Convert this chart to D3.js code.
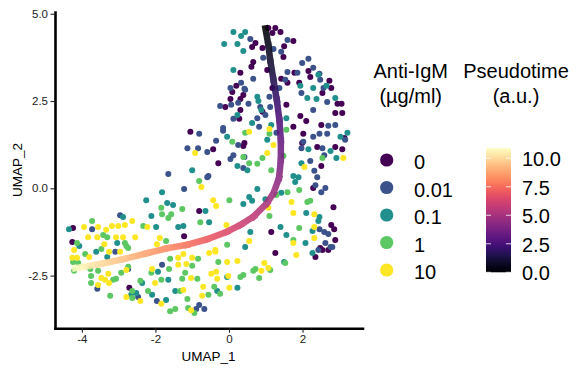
<!DOCTYPE html>
<html>
<head>
<meta charset="utf-8" />
<title>UMAP pseudotime</title>
<script src="https://cdn.jsdelivr.net/npm/d3@7"></script>
<style>
    body { margin: 0; background: #fff; }
    svg { font-family: "Liberation Sans", Arial, sans-serif; }
    .tick text { fill: #222; }
</style>
</head>
<body>
<svg id="CHART" width="576" height="370"></svg>
<script>
// cells per anti-IgM dose, [UMAP_1, UMAP_2]
var conc0 = [[1.07,4.59],[1.26,4.59],[1.40,4.48],[1.18,4.45],[1.75,4.22],[1.50,4.07],[0.72,4.16],[0.63,4.05],[0.91,4.02],[1.48,3.76],[0.66,3.62],[0.61,3.48],[0.31,3.31],[1.04,3.39],[1.78,3.31],[2.16,3.36],[2.21,3.19],[1.91,3.02],[2.73,3.08],[2.78,2.87],[1.42,3.14],[1.59,3.02],[0.20,2.94],[0.09,2.76],[0.04,2.56],[0.31,2.56],[0.39,2.67],[2.54,2.73],[1.56,2.39],[1.18,2.87],[3.06,2.42],[2.95,2.42],
    [-0.10,2.33],[0.28,1.99],[1.94,2.07],[2.10,1.93],[2.89,2.16],[3.08,2.16],[1.75,1.76],[2.51,1.81],[-1.05,1.62],[0.42,1.30],[0.39,1.21],[2.02,1.56],[3.14,1.44],[1.99,1.30],[2.40,1.18],[2.89,1.18],[3.08,1.12],[-0.43,1.12],[-0.29,0.72],[2.51,0.64],[0.91,2.19],[0.31,2.24],
    [-0.81,-0.65],[2.84,-0.54],[2.29,0.01],[1.15,-1.25],[2.78,-1.05],[2.86,-1.17],[2.89,-1.48],[2.48,-1.71],
    [-4.24,-1.14],[-1.22,-1.37],[-4.26,-1.54],[-2.71,-2.85],[1.26,-1.85],[2.35,-1.97],[2.54,-1.77],[2.70,-1.77]];
var conc001 = [[1.59,4.25],[0.58,4.28],[1.21,3.99],[1.42,3.91],[0.93,3.74],[1.59,3.33],[1.99,3.59],[2.16,3.71],[2.29,3.45],[1.86,3.31],[1.53,3.11],[1.37,2.87],[0.66,3.14],[0.33,3.02],[0.44,2.82],[2.67,2.47],[2.57,2.87],[2.46,3.28],[2.48,3.11],[1.97,2.73],[0.42,2.85],[0.04,2.87],[1.10,2.62],
    [-0.24,2.36],[0.06,2.39],[0.25,2.45],[0.53,2.42],[0.85,2.33],[1.12,2.33],[0.12,1.99],[0.77,2.01],[0.99,2.10],[2.29,2.24],[0.82,1.76],[2.70,1.79],[2.89,1.81],[-0.16,1.73],[-0.16,1.65],[-0.81,1.56],[1.29,1.59],[-0.35,1.36],[0.25,1.24],[2.29,1.48],[2.46,1.56],[2.67,1.56],[3.16,1.39],[2.02,1.33],[1.97,1.15],[2.54,1.15],[2.59,0.95],[-1.13,1.15],[-0.84,1.15],[-0.59,1.04],[0.12,0.95],[0.04,0.84],[0.42,0.90],[0.39,0.58],[2.21,0.78],[2.32,0.50],[2.40,0.32],[-0.56,0.35],
    [-1.65,0.41],[-1.22,-0.02],[-2.96,-0.77],[-0.59,0.32],[2.35,0.09],[2.62,0.01],[2.51,-0.11],[2.46,-1.17],[2.59,-1.25],[2.70,-1.31],[2.62,-1.57],[2.76,-1.68],
    [-3.72,-1.17],[-3.09,-1.82],[-2.74,-2.31],[-3.58,-2.88],[-2.47,-3.11],[-1.96,-3.23],[-1.82,-2.19],[-0.89,-3.46],[-0.81,-3.34],[-0.67,-3.46],[2.43,-1.77],[2.81,-1.68]];
var conc01 = [[0.12,4.48],[0.33,4.36],[0.44,4.48],[-0.13,4.13],[0.23,4.13],[0.39,3.93],[0.12,3.39],[2.43,3.25],[1.94,2.94],[2.13,2.59],[2.29,2.87],[2.65,2.94],[2.89,2.59],[2.38,2.56],[0.77,2.62],[0.80,2.50],
    [0.23,2.10],[0.88,2.24],[1.56,2.01],[0.63,1.87],[1.15,1.81],[3.22,1.59],[-0.05,1.48],[1.04,1.39],[3.03,1.48],[2.16,1.12],[2.76,1.07],[2.92,0.87],[0.23,0.64],[0.50,0.52],[1.97,0.72],[1.75,0.35],[1.89,0.32],[-1.00,0.52],
    [-1.82,-0.11],[-2.25,-0.34],[-1.68,-0.42],[-1.52,-0.48],[-0.64,-0.65],[-2.88,-0.82],[-2.11,-0.79],
    [0.77,-0.02],[0.55,-0.25],[0.63,-0.36],[0.39,-0.45],[-0.54,-0.97],[0.99,-0.31],[2.10,-0.71],[2.46,-0.82],[2.43,-0.94],[1.80,0.18],[1.42,-0.13],[0.58,-1.25],[1.40,-1.11],[1.56,-1.34],[2.27,-1.22],[2.08,-1.57],[0.44,-1.68],
    [-4.35,-1.17],[-1.98,-1.11],[-1.38,-1.11],[-1.24,-1.08],[-4.07,-1.65],[-3.04,-1.57],[-3.61,-1.82],[-3.31,-1.97],[-1.93,-2.39],[-1.65,-2.62],[-2.36,-2.71],[-2.66,-3.05],[-2.52,-3.00],[-2.09,-3.05],[-1.71,-3.20],[-1.46,-2.94],
    [2.27,-1.85],[1.50,-2.11],[-0.05,-2.54],[0.23,-2.85],[-0.32,-2.94]];
var conc1 = [[0.44,1.59],[1.10,1.56],[1.56,1.68],[0.09,1.33],[2.54,0.87],[0.39,0.90],[0.91,0.87],[0.55,0.72],[0.77,0.70],[1.48,0.93],[1.15,0.52],[-0.81,0.21],
    [-1.84,-0.56],[-1.27,-0.59],[-1.82,-0.74],[-1.57,-0.74],[-1.65,-0.85],[-3.72,-0.94],[-0.78,-0.97],
    [0.01,-0.34],[1.10,-0.79],[1.59,-0.11],[1.91,-0.05],[2.13,-0.39],[2.21,-0.36],[1.29,-0.19],[1.91,-1.14],[1.75,-1.48],[-0.05,-1.62],
    [-2.33,-1.08],[-3.42,-1.34],[-3.31,-1.40],[-4.13,-1.57],[-2.83,-1.57],[-2.79,-1.65],[-1.71,-1.51],[-3.91,-1.88],[-3.47,-1.74],[-2.74,-1.71],[-4.24,-2.11],[-4.10,-2.14],[-4.21,-2.36],[-3.77,-2.31],[-3.56,-2.36],[-2.93,-2.42],[-2.74,-2.25],[-3.75,-2.51],[-3.15,-2.62],[-3.07,-2.59],[-3.75,-2.71],[-2.63,-2.94],[-2.63,-3.14],[-3.23,-3.08],[-2.41,-2.65],[-2.11,-2.42],[-1.63,-2.31],[-1.60,-2.02],[-1.00,-2.22],[-0.84,-2.02],[-1.19,-2.42],[-1.27,-2.59],[-0.86,-2.59],[-1.84,-2.62],[-2.20,-2.94],[-1.33,-2.94],[-1.13,-3.17],[-1.60,-3.52],[-1.46,-3.46],[-1.11,-3.43],[-0.94,-3.57],
    [-0.29,-2.11],[1.53,-2.14],[1.12,-2.34],[0.66,-2.36],[0.72,-2.31],[0.39,-2.48],[0.31,-2.54],[0.82,-2.57],[-0.40,-2.82],[-0.24,-3.02],[-0.56,-3.05]];
var conc10 = [[0.55,1.62],[1.10,1.70],[1.21,1.24],[3.11,0.87],[-0.92,1.01],[1.04,1.01],[2.05,0.61],
    [-0.75,0.04],[-2.63,-0.94],
    [-0.43,-0.34],[-0.35,-0.51],[-0.07,-1.05],[1.07,-0.56],[1.70,-0.39],[1.75,-0.71],[2.32,-0.74],[2.32,-1.11],[2.32,-1.42],[1.75,-1.57],[0.55,-1.51],[-0.37,-1.77],
    [-3.94,-1.11],[-3.56,-1.11],[-3.34,-1.19],[-3.18,-1.08],[-3.01,-1.08],[-2.83,-1.05],[-2.22,-1.11],[-3.83,-1.40],[-3.58,-1.40],[-3.07,-1.40],[-2.88,-1.40],[-2.55,-1.40],[-1.88,-1.42],[-3.39,-1.60],[-1.96,-1.60],[-4.21,-1.77],[-3.80,-1.97],[-3.26,-1.82],[-2.96,-1.82],[-4.13,-1.99],[-4.26,-1.99],[-2.79,-2.34],[-3.28,-2.45],[-3.47,-2.57],[-3.37,-2.62],[-3.26,-2.71],[-3.56,-2.77],[-2.79,-3.11],[-2.41,-3.23],[-2.09,-2.31],[-1.38,-1.99],[-1.38,-2.19],[-1.16,-2.17],[-1.24,-1.88],[-1.00,-1.99],[-1.03,-2.57],[-2.01,-2.71],[-1.84,-3.31],[-1.24,-2.91],[-1.03,-3.49],[-0.73,-3.08],
    [-0.54,-1.85],[-0.37,-1.82],[-0.05,-2.11],[0.23,-2.08],[1.83,-1.91],[0.96,-2.14],[1.07,-2.28],[0.88,-2.36],[-0.48,-2.45],[-0.35,-2.39],[-0.32,-2.59],[-0.02,-2.51],[0.01,-2.85],[-0.70,-2.82]];

// principal curve, with pseudotime at each knot
var trajX = [0.99,1.07,1.12,1.21,1.30,1.37,1.41,1.41,1.36,1.21,1.03,0.67,0.31,-0.05,-0.60,-1.14,-1.69,-2.23,-2.87,-3.50,-4.18];
var trajY = [4.58,4.11,3.68,3.10,2.53,1.96,1.38,0.81,0.30,-0.14,-0.43,-0.81,-1.05,-1.24,-1.46,-1.62,-1.72,-1.86,-2.03,-2.17,-2.29];
var trajTime = [0,0.48,0.91,1.50,2.08,2.65,3.23,3.80,4.31,4.77,5.11,5.63,6.06,6.47,7.06,7.62,8.18,8.74,9.40,10.05,10.87];

var doseLabels = ["0","0.01","0.1","1","10"];
var doseColors = ["#440154","#3B528B","#21908C","#5DC863","#FDE725"];
var xTicks = [-4,-2,0,2];
var yTicks = [-2.5,0,2.5,5];
var timeTicks = [0,2.5,5,7.5,10];
var timeMax = 10.87;

var svg = d3.select("#CHART");
var x = d3.scaleLinear().domain([-4.73, 3.63]).range([55, 362.5]);
var y = d3.scaleLinear().domain([-4.01, 5.05]).range([328.3, 12]);
var magma = function (t) { return d3.interpolateMagma(t / timeMax); };

/* points */
var groups = [conc0, conc001, conc01, conc1, conc10];
var gPts = svg.append("g");
groups.forEach(function (pts, i) {
    gPts.selectAll(null).data(pts).enter().append("circle")
        .attr("cx", function (d) { return x(d[0]); })
        .attr("cy", function (d) { return y(d[1]); })
        .attr("r", 3)
        .attr("fill", doseColors[i]);
});

/* trajectory, one segment per pair of knots */
var defs = svg.append("defs");
var gTraj = svg.append("g").attr("opacity", 0.88);
for (var i = 0; i < trajX.length - 1; i++) {
    var gid = "seg" + i;
    var lg = defs.append("linearGradient").attr("id", gid).attr("gradientUnits", "userSpaceOnUse")
        .attr("x1", x(trajX[i])).attr("y1", y(trajY[i]))
        .attr("x2", x(trajX[i + 1])).attr("y2", y(trajY[i + 1]));
    lg.append("stop").attr("offset", 0).attr("stop-color", magma(trajTime[i]));
    lg.append("stop").attr("offset", 1).attr("stop-color", magma(trajTime[i + 1]));
    gTraj.append("path")
        .datum([[trajX[i], trajY[i]], [trajX[i + 1], trajY[i + 1]]])
        .attr("d", d3.line().x(function (d) { return x(d[0]); }).y(function (d) { return y(d[1]); }))
        .attr("stroke", "url(#" + gid + ")")
        .attr("stroke-width", 6.5)
        .attr("stroke-linecap", "square")
        .attr("fill", "none");
}

/* axes */
var xAxis = svg.append("g").attr("transform", "translate(0,328.3)")
    .call(d3.axisBottom(x).tickValues(xTicks).tickFormat(function (d) { return String(d); }).tickSize(4.5).tickSizeOuter(0));
var yAxis = svg.append("g").attr("transform", "translate(55,0)")
    .call(d3.axisLeft(y).tickValues(yTicks).tickFormat(function (d) { return d.toFixed(1); }).tickSize(4.5).tickSizeOuter(0));
[xAxis, yAxis].forEach(function (a) {
    a.select(".domain").attr("stroke", "#000").attr("stroke-width", 2.6).attr("stroke-linecap", "square");
    a.selectAll(".tick line").attr("stroke", "#222").attr("stroke-width", 1.1);
    a.selectAll(".tick text").attr("font-size", 11.5).attr("font-family", "Liberation Sans, Arial, sans-serif");
});
xAxis.selectAll(".tick text").attr("dy", "0.71em").attr("y", 7);
yAxis.selectAll(".tick text").attr("x", -7);

svg.append("text").attr("x", 208.5).attr("y", 361).attr("text-anchor", "middle")
    .attr("font-size", 13.5).text("UMAP_1");
svg.append("text").attr("transform", "translate(21.5,170) rotate(-90)").attr("text-anchor", "middle")
    .attr("font-size", 13.5).text("UMAP_2");

/* dose legend */
var leg = svg.append("g").attr("font-size", 20);
leg.append("text").attr("x", 410.7).attr("y", 78).attr("text-anchor", "middle").text("Anti-IgM");
leg.append("text").attr("x", 410.7).attr("y", 102.5).attr("text-anchor", "middle").text("(µg/ml)");
var keys = leg.selectAll("g.key").data(doseLabels).enter().append("g").attr("class", "key")
    .attr("transform", function (d, i) { return "translate(386.7," + (160 + i * 27.5) + ")"; });
keys.append("circle").attr("r", 6.6).attr("fill", function (d, i) { return doseColors[i]; });
keys.append("text").attr("x", 27.3).attr("y", 9).text(function (d) { return d; });

/* pseudotime colour bar */
var cb = svg.append("g").attr("font-size", 20);
cb.append("text").attr("x", 516).attr("y", 78).attr("text-anchor", "middle").text("Pseudotime");
cb.append("text").attr("x", 516).attr("y", 102.5).attr("text-anchor", "middle").text("(a.u.)");
var t = d3.scaleLinear().domain([0, timeMax]).range([272.3, 148.3]);
var cg = defs.append("linearGradient").attr("id", "cbar").attr("x1", 0).attr("y1", 1).attr("x2", 0).attr("y2", 0);
d3.range(0, 1.0001, 0.05).forEach(function (o) {
    cg.append("stop").attr("offset", o).attr("stop-color", d3.interpolateMagma(o));
});
cb.append("rect").attr("x", 486).attr("y", t(timeMax)).attr("width", 25).attr("height", t(0) - t(timeMax))
    .attr("fill", "url(#cbar)");
var ct = cb.selectAll("g.ct").data(timeTicks).enter().append("g").attr("class", "ct")
    .attr("transform", function (d) { return "translate(0," + t(d) + ")"; });
ct.append("line").attr("x1", 486).attr("x2", 491).attr("stroke", "#fff").attr("stroke-opacity", 0.8);
ct.append("line").attr("x1", 506).attr("x2", 511).attr("stroke", "#fff").attr("stroke-opacity", 0.8);
ct.append("text").attr("x", 522).attr("y", 8).text(function (d) { return d.toFixed(1); });
</script>
</body>
</html>
